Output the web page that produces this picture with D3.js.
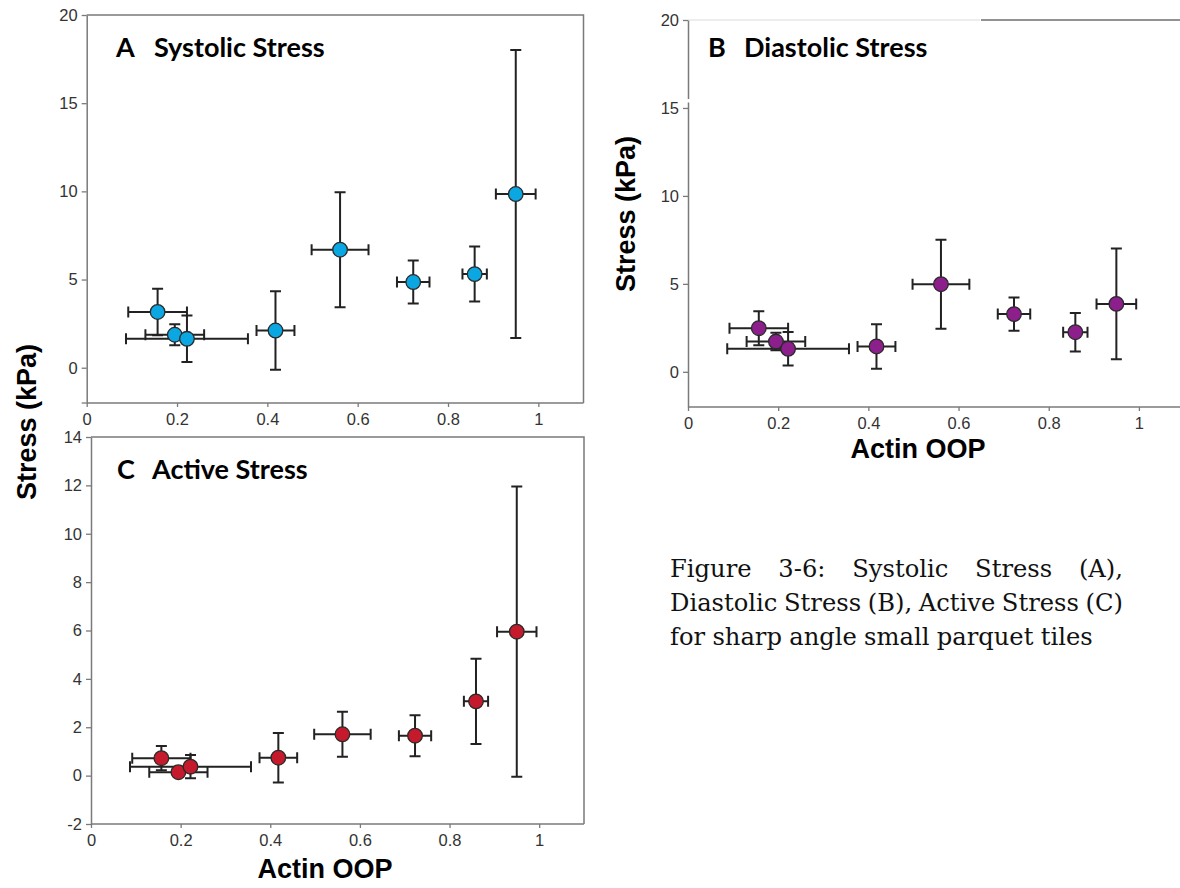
<!DOCTYPE html>
<html>
<head>
<meta charset="utf-8">
<script src="https://cdn.jsdelivr.net/npm/d3@7"></script>
<style>
  html, body { margin: 0; padding: 0; background: #fff; }
  svg { display: block; }
  .tick text { font-family: 'Liberation Sans', Arial, sans-serif; font-size: 16.5px; fill: #333; }
</style>
</head>
<body>
<svg id="fig" width="1180" height="888"></svg>
<script>
// Actin OOP per tile group (shared by all three panels) with its spread
const actinOOP = [0.157, 0.195, 0.222, 0.418, 0.561, 0.723, 0.859, 0.950];
const actinOOPErr = [0.065, 0.065, 0.135, 0.042, 0.063, 0.036, 0.027, 0.044];

// Stress values (kPa) and their error bars
const systolic = [3.16, 1.87, 1.64, 2.11, 6.69, 4.86, 5.31, 9.85];
const systolicErr = [1.32, 0.60, 1.32, 2.23, 3.26, 1.22, 1.56, 8.17];
const diastolic = [2.48, 1.72, 1.31, 1.44, 4.98, 3.28, 2.25, 3.86];
const diastolicErr = [0.97, 0.50, 0.95, 1.27, 2.53, 0.95, 1.10, 3.15];
const active = [0.72, 0.14, 0.37, 0.74, 1.71, 1.65, 3.07, 5.95];
const activeErr = [0.50, 0.15, 0.48, 1.02, 0.93, 0.85, 1.76, 6.00];

// Axis ticks
const oopTicks = [0, 0.2, 0.4, 0.6, 0.8, 1];
const stressTicks = [0, 5, 10, 15, 20];
const activeTicks = [-2, 0, 2, 4, 6, 8, 10, 12, 14];

// Panel letters and titles
const panelLetters = ["A", "B", "C"];
const panelTitles = ["Systolic Stress", "Diastolic Stress", "Active Stress"];

const svg = d3.select("#fig");
svg.append("rect").attr("width", 1180).attr("height", 888).attr("fill", "#fff");

const axisColor = "#7a7a7a";
const boldFont = "'Liberation Sans', Arial, sans-serif";
const titleFont = "Lato, 'Open Sans', sans-serif";
// plain hyphen for negatives, no trailing zeros
const tickFmt = v => String(+v.toFixed(2));

const panels = [
  { x0: 86.7, x1: 583.5, yTop: 15, yBot: 403, yDom: [-2, 20], ticks: stressTicks,
    ys: systolic, ye: systolicErr, fill: "#0aa7e2", extraTicks: [-2],
    titleX: 116, titleY: 57, nameX: 154, frame: "box" },
  { x0: 688, x1: 1184, yTop: 20, yBot: 407, yDom: [-2, 20], ticks: stressTicks,
    ys: diastolic, ye: diastolicErr, fill: "#8c1f8c", extraTicks: [],
    titleX: 708, titleY: 57, nameX: 744, frame: "open" },
  { x0: 91, x1: 584, yTop: 437, yBot: 824, yDom: [-2, 14], ticks: activeTicks,
    ys: active, ye: activeErr, fill: "#c41a2c", extraTicks: [],
    titleX: 117, titleY: 479, nameX: 152, frame: "box" }
];

panels.forEach((p, i) => {
  const x = d3.scaleLinear().domain([0, 1.1]).range([p.x0, p.x1]);
  const y = d3.scaleLinear().domain(p.yDom).range([p.yBot, p.yTop]);
  const g = svg.append("g");

  // frame (top and right edges)
  if (p.frame === "box") {
    g.append("path")
      .attr("d", `M${p.x0},${p.yTop}H${p.x1}V${p.yBot}`)
      .attr("fill", "none").attr("stroke", axisColor).attr("stroke-width", 1.5);
  } else {
    g.append("line").attr("x1", p.x0).attr("x2", 980).attr("y1", p.yTop).attr("y2", p.yTop)
      .attr("stroke", "#dcdcdc").attr("stroke-width", 1.2);
    g.append("line").attr("x1", 981).attr("x2", 1180).attr("y1", p.yTop).attr("y2", p.yTop)
      .attr("stroke", "#6e6e6e").attr("stroke-width", 1.6);
  }

  // x axis
  const xa = g.append("g").attr("transform", `translate(0,${p.yBot})`)
    .call(d3.axisBottom(x).tickValues(oopTicks).tickFormat(tickFmt)
      .tickSizeInner(4).tickSizeOuter(0).tickPadding(6));
  // y axis
  const ya = g.append("g").attr("transform", `translate(${p.x0},0)`)
    .call(d3.axisLeft(y).tickValues(p.ticks).tickFormat(tickFmt)
      .tickSizeInner(5).tickSizeOuter(0).tickPadding(4));
  [xa, ya].forEach(a => {
    a.attr("font-size", null).attr("font-family", null);
    a.select(".domain").attr("stroke", axisColor).attr("stroke-width", 1.5);
    a.selectAll(".tick line").attr("stroke", axisColor).attr("stroke-width", 1.3);
  });
  xa.select(".domain").attr("d", `M${p.x0},0H${p.x1}`);
  // bare ticks without labels
  p.extraTicks.forEach(v => {
    g.append("line").attr("x1", p.x0 - 5).attr("x2", p.x0).attr("y1", y(v)).attr("y2", y(v))
      .attr("stroke", axisColor).attr("stroke-width", 1.3);
  });
  if (p.frame === "open") {
    // small break in the left axis just above 15
    g.append("rect").attr("x", p.x0 - 2).attr("y", 99).attr("width", 4).attr("height", 3.5).attr("fill", "#fff");
  }

  // title
  const t = g.append("g").style("font-family", titleFont).style("font-weight", 700)
    .style("font-size", "27px").attr("fill", "#000");
  t.append("text").attr("x", p.titleX).attr("y", p.titleY).text(panelLetters[i]);
  t.append("text").attr("x", p.nameX).attr("y", p.titleY).text(panelTitles[i]);

  // error bars
  const eb = g.append("g").attr("stroke", "#222").attr("stroke-width", 2).attr("fill", "none");
  const cap = 5.5;
  actinOOP.forEach((xv, k) => {
    const cx = x(xv), cy = y(p.ys[k]);
    const yl = y(p.ys[k] - p.ye[k]), yh = y(p.ys[k] + p.ye[k]);
    const xl = x(xv - actinOOPErr[k]), xh = x(xv + actinOOPErr[k]);
    eb.append("path").attr("d",
      `M${cx},${yl}V${yh}M${cx - cap},${yl}H${cx + cap}M${cx - cap},${yh}H${cx + cap}` +
      `M${xl},${cy}H${xh}M${xl},${cy - cap}V${cy + cap}M${xh},${cy - cap}V${cy + cap}`);
  });

  // points
  g.append("g").selectAll("circle").data(actinOOP).join("circle")
    .attr("cx", d => x(d))
    .attr("cy", (d, k) => y(p.ys[k]))
    .attr("r", 7.3)
    .attr("fill", p.fill)
    .attr("stroke", "#2a2a2a").attr("stroke-width", 1.3);
});

// axis titles
const axisTitle = (txt, x, y, rot) => svg.append("text")
  .attr("transform", `translate(${x},${y})` + (rot ? " rotate(-90)" : ""))
  .attr("text-anchor", "middle")
  .style("font-family", boldFont).style("font-weight", 700).style("font-size", "27px")
  .attr("fill", "#000").text(txt);
axisTitle("Stress (kPa)", 36, 422, true);
axisTitle("Stress (kPa)", 635, 214, true);
axisTitle("Actin OOP", 918, 458, false);
axisTitle("Actin OOP", 325, 878, false);

// caption, justified like a text column
const capLines = [
  ["Figure", "3-6:", "Systolic", "Stress", "(A),"],
  ["Diastolic", "Stress", "(B),", "Active", "Stress", "(C)"],
  ["for", "sharp", "angle", "small", "parquet", "tiles"]
];
const capLeft = 670, capRight = 1123, capBase = [577, 611, 645];
const cap = svg.append("g").style("font-family", "'DejaVu Serif', serif").attr("fill", "#111");

// size the caption so the last (unjustified) line spans its column width
const probe = cap.append("text").style("font-size", "22px").text(capLines[2].join(" "));
const fitSize = 22 * 425 / probe.node().getComputedTextLength();
probe.remove();
cap.style("font-size", fitSize + "px");

capLines.forEach((words, li) => {
  const nodes = words.map(w => cap.append("text").attr("y", capBase[li]).text(w));
  const widths = nodes.map(n => n.node().getComputedTextLength());
  const total = d3.sum(widths);
  const space = fitSize * 0.3;
  const gap = li < 2 ? (capRight - capLeft - total) / (words.length - 1) : space;
  let xPos = capLeft;
  nodes.forEach((n, k) => { n.attr("x", xPos); xPos += widths[k] + gap; });
});
</script>
</body>
</html>
